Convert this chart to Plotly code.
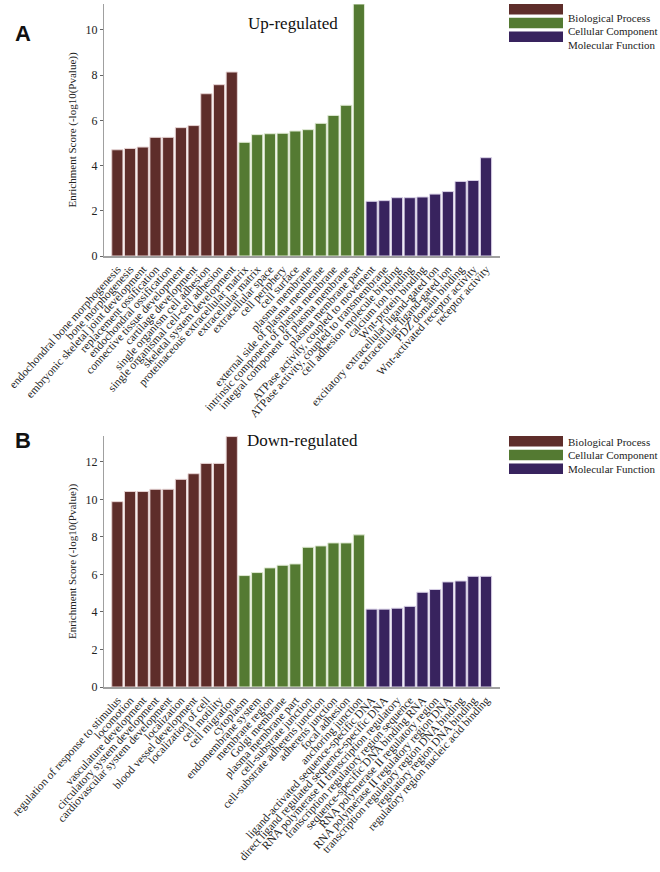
import plotly.graph_objects as go

# ---------------- data ----------------
up_bp_terms = ["endochondral bone morphogenesis", "bone morphogenesis",
               "embryonic skeletal joint development", "replacement ossification",
               "endochondral ossification", "connective tissue development",
               "cartilage development", "single organism cell adhesion",
               "single organismal cell-cell adhesion", "skeletal system development"]
up_bp_vals = [4.70, 4.76, 4.82, 5.25, 5.25, 5.68, 5.77, 7.18, 7.58, 8.14]
up_cc_terms = ["proteinaceous extracellular matrix", "extracellular matrix",
               "extracellular space", "cell periphery", "cell surface",
               "plasma membrane", "external side of plasma membrane",
               "intrinsic component of plasma membrane",
               "integral component of plasma membrane", "plasma membrane part"]
up_cc_vals = [5.03, 5.37, 5.41, 5.43, 5.53, 5.59, 5.87, 6.22, 6.67, 11.15]
up_mf_terms = ["ATPase activity, coupled to movement",
               "ATPase activity, coupled to transmembrane",
               "cell adhesion molecule binding", "calcium ion binding",
               "Wnt-protein binding", "excitatory extracellular ligand-gated ion",
               "extracellular ligand-gated ion", "PDZ domain binding",
               "Wnt-activated receptor activity", "receptor activity"]
up_mf_vals = [2.42, 2.45, 2.58, 2.58, 2.61, 2.74, 2.85, 3.30, 3.34, 4.35]

down_bp_terms = ["regulation of response to stimulus", "locomotion",
                 "vasculature development", "circulatory system development",
                 "cardiovascular system development", "localization",
                 "blood vessel development", "localization of cell",
                 "cell motility", "cell migration"]
down_bp_vals = [9.88, 10.42, 10.42, 10.54, 10.54, 11.07, 11.37, 11.92, 11.92, 13.35]
down_cc_terms = ["cytoplasm", "endomembrane system", "membrane region",
                 "Golgi membrane", "plasma membrane part", "cell-substrate junction",
                 "cell-substrate adherens junction", "adherens junction",
                 "focal adhesion", "anchoring junction"]
down_cc_vals = [5.94, 6.10, 6.35, 6.49, 6.56, 7.45, 7.52, 7.68, 7.68, 8.11]
down_mf_terms = ["ligand-activated sequence-specific DNA",
                 "direct ligand regulated sequence-specific DNA",
                 "RNA polymerase II transcription regulatory",
                 "transcription regulatory region sequence",
                 "sequence-specific DNA binding RNA",
                 "RNA polymerase II regulatory region",
                 "RNA polymerase II regulatory region DNA",
                 "transcription regulatory region DNA binding",
                 "regulatory region DNA binding",
                 "regulatory region nucleic acid binding"]
down_mf_vals = [4.15, 4.15, 4.20, 4.30, 5.05, 5.20, 5.60, 5.65, 5.90, 5.90]

groups = ["Biological Process", "Cellular Component", "Molecular Function"]
colors = ["#5e2d2a", "#547a32", "#38235e"]
line_colors = ["#e6d3d3", "#dfe9d3", "#d8d0e6"]

W, H = 660, 872
SERIF = "Liberation Serif"

fig = go.Figure()

panels = [
    dict(xa="x", ya="y", terms=[up_bp_terms, up_cc_terms, up_mf_terms],
         vals=[up_bp_vals, up_cc_vals, up_mf_vals]),
    dict(xa="x2", ya="y2", terms=[down_bp_terms, down_cc_terms, down_mf_terms],
         vals=[down_bp_vals, down_cc_vals, down_mf_vals]),
]

for p in panels:
    for g, (t, v) in enumerate(zip(p["terms"], p["vals"])):
        fig.add_trace(go.Bar(
            x=t, y=v, xaxis=p["xa"], yaxis=p["ya"], name=groups[g],
            marker=dict(color=colors[g], line=dict(color=line_colors[g], width=1)),
            width=0.88, showlegend=False))


def px_x(px):
    return px / W


def px_y(py):
    return 1 - py / H


xdom = [px_x(104), px_x(500)]
up_all = up_bp_terms + up_cc_terms + up_mf_terms
down_all = down_bp_terms + down_cc_terms + down_mf_terms

common_x = dict(type="category", tickangle=-48, showline=True, linecolor="#a0a0a0",
                linewidth=2, ticks="", showgrid=False, zeroline=False,
                tickfont=dict(family=SERIF, size=11.5, color="#222"),
                automargin=False, range=[-1.05, 30.1], tickmode="array")
common_y = dict(showline=True, linecolor="#a0a0a0", linewidth=1, ticks="outside",
                ticklen=3, tickcolor="#666", showgrid=False, zeroline=False,
                tickfont=dict(family=SERIF, size=12, color="#222"), automargin=False,
                title=dict(text="Enrichment Score (-log10(Pvalue))",
                           font=dict(family=SERIF, size=11, color="#222"), standoff=6),
                dtick=2)

fig.update_layout(
    width=W, height=H, margin=dict(l=0, r=0, t=0, b=0),
    paper_bgcolor="white", plot_bgcolor="white", bargap=0.12,
    xaxis=dict(domain=xdom, anchor="y", tickvals=up_all, ticktext=up_all, **common_x),
    yaxis=dict(domain=[px_y(256), px_y(4)], anchor="x", range=[0, 11.15], **common_y),
    xaxis2=dict(domain=xdom, anchor="y2", tickvals=down_all, ticktext=down_all, **common_x),
    yaxis2=dict(domain=[px_y(687), px_y(436)], anchor="x2", range=[0, 13.38], **common_y),
)

annotations = [
    dict(text="Up-regulated", x=px_x(293), y=px_y(12), xref="paper", yref="paper",
         showarrow=False, font=dict(family=SERIF, size=17, color="#111")),
    dict(text="Down-regulated", x=px_x(302), y=px_y(440), xref="paper", yref="paper",
         showarrow=False, font=dict(family=SERIF, size=17, color="#111")),
    dict(text="<b>A</b>", x=px_x(13), y=px_y(19), xref="paper", yref="paper",
         showarrow=False, font=dict(family="Liberation Sans, Arial, sans-serif", size=22, color="#111")),
    dict(text="<b>B</b>", x=px_x(13), y=px_y(440), xref="paper", yref="paper",
         showarrow=False, font=dict(family="Liberation Sans, Arial, sans-serif", size=22, color="#111")),
]
shapes = []
for off in (0, 432):
    for i, (g, c) in enumerate(zip(groups, colors)):
        y0 = 4 + off + i * 13.7
        shapes.append(dict(type="rect", xref="paper", yref="paper",
                           x0=px_x(509), x1=px_x(563), y0=px_y(y0 + 10.5), y1=px_y(y0),
                           fillcolor=c, line=dict(width=0)))
        annotations.append(dict(text=g, x=px_x(566), y=px_y(y0 + 5.5), xref="paper",
                                yref="paper", xanchor="left", showarrow=False,
                                font=dict(family=SERIF, size=11, color="#222")))
fig.update_layout(annotations=annotations, shapes=shapes)

fig.write_html(
    "out.html",
    config={"displayModeBar": False},
    post_script="document.body.style.margin='0';document.body.style.overflow='hidden';",
)
